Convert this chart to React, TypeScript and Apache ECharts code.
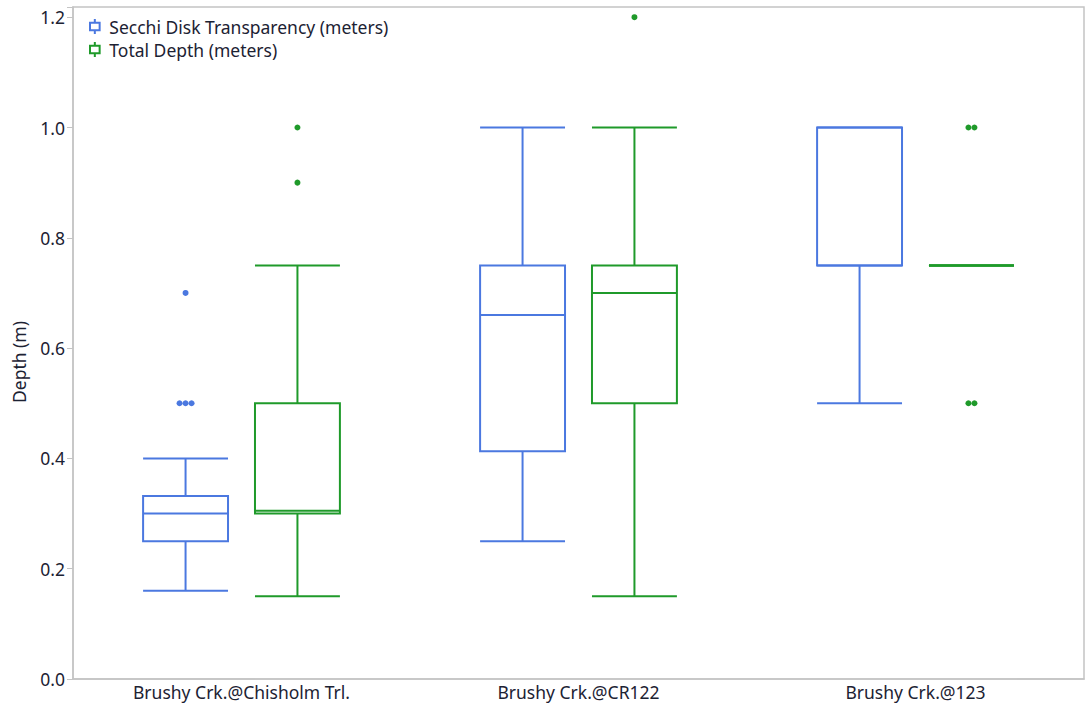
import React, { useEffect, useRef } from "react";
import * as echarts from "echarts";

const categories = ["Brushy Crk.@Chisholm Trl.", "Brushy Crk.@CR122", "Brushy Crk.@123"];
const seriesNames = ["Secchi Disk Transparency (meters)", "Total Depth (meters)"];
const seriesColors = ["#4B78E0", "#1F9A2A"];

// [min, Q1, median, Q3, max] per category
const secchiBoxes = [
  [0.16, 0.25, 0.3, 0.332, 0.4],
  [0.25, 0.413, 0.66, 0.75, 1.0],
  [0.5, 0.75, 0.75, 1.0, 1.0],
];
const depthBoxes = [
  [0.15, 0.3, 0.305, 0.5, 0.75],
  [0.15, 0.5, 0.7, 0.75, 1.0],
  [0.75, 0.75, 0.75, 0.75, 0.75],
];
// outliers per category
const secchiOutliers = [[0.5, 0.5, 0.5, 0.7], [], []];
const depthOutliers = [[0.9, 1.0], [1.2], [0.5, 0.5, 1.0, 1.0]];

const yTicks = [0, 0.2, 0.4, 0.6, 0.8, 1.0, 1.2];
const yMax = 1.2185;

const FONT = "'Noto Sans', 'Open Sans', sans-serif";
const TEXT = "#1c2233";
const AXIS_GRAY = "#c4c4c4";
const FS = 17.5;

function boxSeries(name: string, color: string, boxes: number[][], offFrac: number) {
  const data = boxes.map((b, i) => [i, ...b]);
  return {
    type: "custom",
    name,
    data,
    encode: { x: 0, y: [1, 2, 3, 4, 5] },
    itemStyle: { color },
    renderItem: (params: any, api: any) => {
      const cat = api.value(0);
      const band = api.size([1, 0])[0];
      const hw = band * 0.126;
      const cx = api.coord([cat, 0])[0] + band * offFrac;
      const y = [1, 2, 3, 4, 5].map((k) => api.coord([cat, api.value(k)])[1]);
      const [yMin, yQ1, yMed, yQ3, yMx] = y;
      const st = { stroke: color, lineWidth: 2, fill: "none" };
      return {
        type: "group",
        children: [
          { type: "rect", shape: { x: cx - hw, y: yQ3, width: 2 * hw, height: yQ1 - yQ3 }, style: st },
          { type: "line", shape: { x1: cx - hw, y1: yMed, x2: cx + hw, y2: yMed }, style: st },
          { type: "line", shape: { x1: cx, y1: yQ1, x2: cx, y2: yMin }, style: st },
          { type: "line", shape: { x1: cx - hw, y1: yMin, x2: cx + hw, y2: yMin }, style: st },
          { type: "line", shape: { x1: cx, y1: yQ3, x2: cx, y2: yMx }, style: st },
          { type: "line", shape: { x1: cx - hw, y1: yMx, x2: cx + hw, y2: yMx }, style: st },
        ],
      };
    },
  };
}

function outlierSeries(name: string, color: string, outliers: number[][], offFrac: number) {
  const data: number[][] = [];
  outliers.forEach((vals, cat) => {
    const seen: Record<string, number> = {};
    vals.forEach((v) => {
      const n = vals.filter((w) => w === v).length;
      const k = seen[v] || 0;
      seen[v] = k + 1;
      data.push([cat, v, k - (n - 1) / 2]);
    });
  });
  return {
    type: "custom",
    name,
    data,
    encode: { x: 0, y: 1 },
    itemStyle: { color },
    renderItem: (params: any, api: any) => {
      const cat = api.value(0);
      const band = api.size([1, 0])[0];
      const p = api.coord([cat, api.value(1)]);
      return {
        type: "circle",
        shape: { cx: p[0] + band * offFrac + api.value(2) * 6, cy: p[1], r: 3 },
        style: { fill: color },
      };
    },
  };
}

const legendIcon = "path://M5,0 L5,3.5 M0.5,3.5 L9.5,3.5 L9.5,10.5 L0.5,10.5 Z M5,10.5 L5,14";

export default function App() {
  const ref = useRef<HTMLDivElement>(null);
  useEffect(() => {
    if (!ref.current) return;
    const chart = echarts.init(ref.current, null, { renderer: "svg" });
    chart.setOption({
      animation: false,
      backgroundColor: "#ffffff",
      grid: { left: 73, right: 2, top: 7, bottom: 49, show: true, borderColor: AXIS_GRAY, borderWidth: 1.5 },
      legend: {
        orient: "vertical",
        left: 84,
        top: 12,
        itemWidth: 11,
        itemHeight: 15,
        itemGap: 4,
        textStyle: { fontFamily: FONT, fontSize: FS, lineHeight: 19, color: TEXT, padding: [0, 0, 0, 4] },
        data: seriesNames.map((n, i) => ({
          name: n,
          icon: legendIcon,
          itemStyle: { color: "rgba(0,0,0,0)", borderColor: seriesColors[i], borderWidth: 2 },
        })),
      },
      xAxis: {
        type: "category",
        data: categories,
        axisLine: { lineStyle: { color: AXIS_GRAY, width: 1.5 } },
        axisTick: { show: false },
        splitLine: { show: false },
        axisLabel: { fontFamily: FONT, fontSize: FS, color: TEXT, margin: 4 },
      },
      yAxis: {
        type: "value",
        min: 0,
        max: yMax,
        interval: 0.2,
        name: "Depth (m)",
        nameLocation: "middle",
        nameGap: 45,
        nameTextStyle: { fontFamily: FONT, fontSize: FS, color: TEXT, padding: [0, 38, 0, 0] },
        axisLine: { show: true, lineStyle: { color: AXIS_GRAY, width: 1.5 } },
        axisTick: { show: true, length: 6, lineStyle: { color: AXIS_GRAY } },
        splitLine: { show: false },
        axisLabel: {
          fontFamily: FONT,
          fontSize: FS,
          color: TEXT,
          margin: 8,
          formatter: (v: number) => (yTicks.some((t) => Math.abs(t - v) < 1e-6) ? v.toFixed(1) : ""),
        },
      },
      series: [
        boxSeries(seriesNames[0], seriesColors[0], secchiBoxes, -0.166),
        boxSeries(seriesNames[1], seriesColors[1], depthBoxes, 0.166),
        outlierSeries(seriesNames[0], seriesColors[0], secchiOutliers, -0.166),
        outlierSeries(seriesNames[1], seriesColors[1], depthOutliers, 0.166),
      ],
    });
    return () => chart.dispose();
  }, []);
  return <div ref={ref} style={{ position: "fixed", left: 0, top: 0, width: 1086, height: 728 }} />;
}
